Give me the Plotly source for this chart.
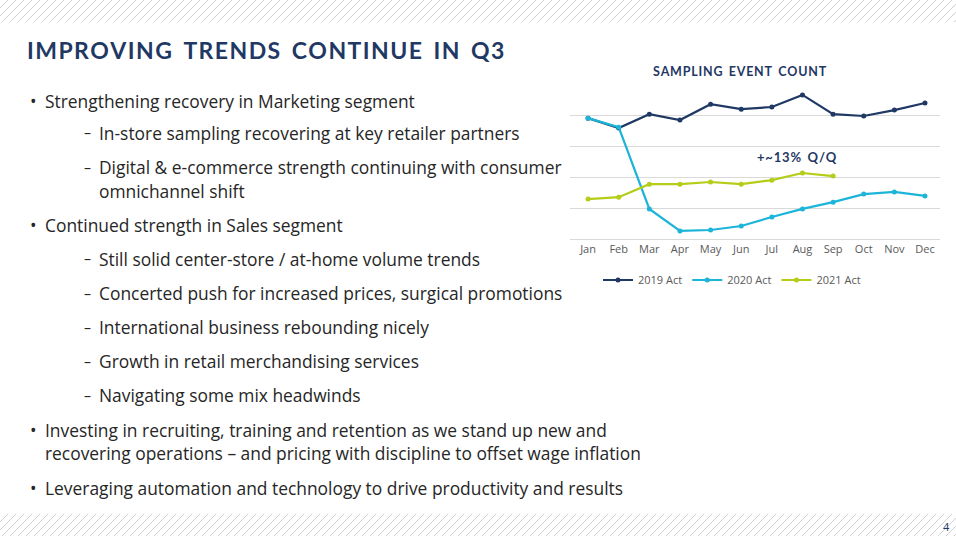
import plotly.graph_objects as go

months = ["Jan","Feb","Mar","Apr","May","Jun","Jul","Aug","Sep","Oct","Nov","Dec"]
act_2019 = [3.9, 3.58, 4.03, 3.84, 4.35, 4.19, 4.26, 4.65, 4.03, 3.97, 4.16, 4.39]
act_2020 = [3.9, 3.61, 0.97, 0.26, 0.29, 0.42, 0.71, 0.97, 1.19, 1.45, 1.52, 1.39]
act_2021 = [1.29, 1.35, 1.77, 1.77, 1.84, 1.77, 1.9, 2.13, 2.03]

W, H = 956, 536
fig = go.Figure()
for name, vals, col in [("2019 Act", act_2019, "#1F3864"), ("2020 Act", act_2020, "#1CB5D9"), ("2021 Act", act_2021, "#B5CC18")]:
    fig.add_trace(go.Scatter(x=list(range(len(vals))), y=vals, name=name, mode="lines+markers",
                             line=dict(color=col, width=2.2), marker=dict(size=5, color=col)))

shapes = []
for y0, y1 in [(0, 22), (514, 536)]:
    for x in range(-30, W + 30, 8):
        shapes.append(dict(type="line", xref="paper", yref="paper",
                           x0=x / W, x1=(x + (y1 - y0)) / W, y0=1 - y1 / H, y1=1 - y0 / H,
                           line=dict(color="#D0D0D0", width=1)))

def px(x, y):
    return x / W, 1 - y / H

ann = []
def text(x, y, s, size=17.4, color="#262626", family="Open Sans, Lato, sans-serif", anchor="left"):
    ax, ay = px(x, y)
    ann.append(dict(x=ax, y=ay, xref="paper", yref="paper", text=s, showarrow=False,
                    xanchor=anchor, yanchor="middle", font=dict(size=size, color=color, family=family)))

def spaced(s):
    return s.replace("   ", "\u2002").replace(" ", "\u200a")

ann.append(dict(x=25 / W, y=1 - 50 / H, xref="paper", yref="paper", showarrow=False, xanchor="left", yanchor="middle",
                text="<b>" + spaced("I M P R O V I N G   T R E N D S   C O N T I N U E   I N   Q 3") + "</b>",
                font=dict(size=23, color="#1F3864", family="Lato, sans-serif")))
ann.append(dict(x=740 / W, y=1 - 72 / H, xref="paper", yref="paper", showarrow=False, xanchor="center", yanchor="middle",
                text="<b>" + spaced("S A M P L I N G   E V E N T   C O U N T") + "</b>",
                font=dict(size=12.5, color="#1F3864", family="Lato, sans-serif")))
ann.append(dict(x=797 / W, y=1 - 157 / H, xref="paper", yref="paper", showarrow=False, xanchor="center", yanchor="middle",
                text="<b>" + spaced("+ ~ 1 3 %   Q / Q") + "</b>", font=dict(size=13, color="#1F3864", family="Lato, sans-serif")))

bullets = [
    (101, 0, "Strengthening recovery in Marketing segment"),
    (133, 1, "In-store sampling recovering at key retailer partners"),
    (167, 1, "Digital & e-commerce strength continuing with consumer"),
    (191, 2, "omnichannel shift"),
    (225, 0, "Continued strength in Sales segment"),
    (259, 1, "Still solid center-store / at-home volume trends"),
    (293, 1, "Concerted push for increased prices, surgical promotions"),
    (327, 1, "International business rebounding nicely"),
    (361, 1, "Growth in retail merchandising services"),
    (395, 1, "Navigating some mix headwinds"),
    (430, 0, "Investing in recruiting, training and retention as we stand up new and"),
    (453, 3, "recovering operations \u2013 and pricing with discipline to offset wage inflation"),
    (488, 0, "Leveraging automation and technology to drive productivity and results"),
]
for y, lvl, s in bullets:
    if lvl == 0:
        text(28, y, "\u2022")
        text(43, y, s)
    elif lvl == 1:
        text(82, y, "\u2013", size=14)
        text(97, y, s)
    elif lvl == 2:
        text(97, y, s)
    else:
        text(43, y, s)
text(941, 526, "4", size=11, color="#1F3864")

fig.update_layout(
    width=W, height=H, margin=dict(l=0, r=0, t=0, b=0),
    paper_bgcolor="white", plot_bgcolor="white",
    xaxis=dict(domain=[570 / W, 940 / W], range=[-0.59, 11.49], tickvals=list(range(12)), ticktext=months,
               showgrid=False, zeroline=False, showline=True, linecolor="#D9D9D9",
               tickfont=dict(size=11, color="#595959", family="Open Sans, sans-serif")),
    yaxis=dict(domain=[1 - 239 / H, 1 - 85 / H], range=[0, 4.97], dtick=1, showticklabels=False,
               showgrid=True, gridcolor="#D9D9D9", zeroline=False),
    legend=dict(orientation="h", x=732 / W, xanchor="center", y=1 - 280 / H, yanchor="middle",
                font=dict(size=11, color="#595959", family="Open Sans, sans-serif")),
    shapes=shapes, annotations=ann, showlegend=True,
)
fig.write_html("out.html", config={"displayModeBar": False},
               post_script="document.body.style.margin='0';document.body.style.overflow='hidden';")
